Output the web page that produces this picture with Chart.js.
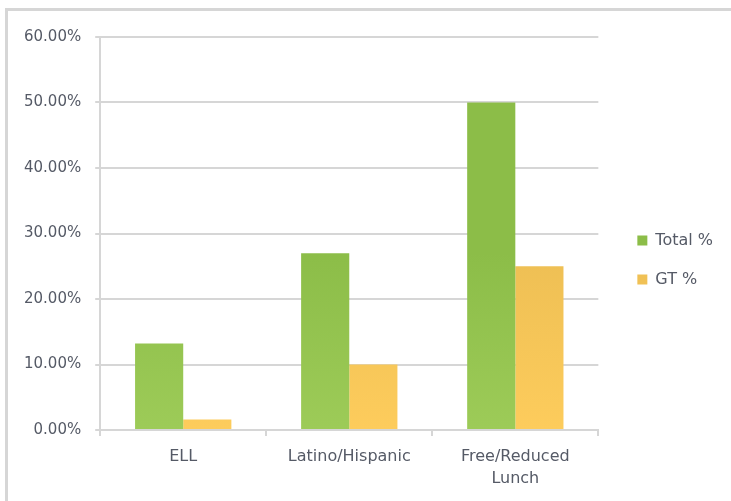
<!DOCTYPE html>
<html>
<head>
<meta charset="utf-8">
<script src="https://cdn.jsdelivr.net/npm/chart.js@4/dist/chart.umd.min.js"></script>
<style>
  body { margin: 0; background: #fff; }
  #frame {
    position: absolute; left: 5px; top: 8px;
    width: 723px; height: 490px;
    border-top: 3px solid #d6d6d6;
    border-left: 3px solid #d6d6d6;
  }
</style>
</head>
<body>
<div id="frame"><canvas id="chart" width="723" height="490"></canvas></div>
<script>
// values (percent)
const categories = ['ELL', 'Latino/Hispanic', ['Free/Reduced', 'Lunch']];
const totalPct = [13.2, 27.0, 50.0];
const gtPct = [1.6, 10.0, 25.0];

function barGradient(top, bottom) {
    return function (context) {
        const area = context.chart.chartArea;
        if (!area) return top;
        const g = context.chart.ctx.createLinearGradient(0, area.top, 0, area.bottom);
        g.addColorStop(0, top);
        g.addColorStop(0.55, top);
        g.addColorStop(1, bottom);
        return g;
    };
}

const textColor = '#555a66';
const gridColor = '#d6d6d6';

new Chart(document.getElementById('chart').getContext('2d'), {
    type: 'bar',
    data: {
        labels: categories,
        datasets: [{
            label: 'Total %',
            data: totalPct,
            backgroundColor: barGradient('#8cbd48', '#9dcb58'),
            categoryPercentage: 0.58,
            barPercentage: 1
        }, {
            label: 'GT %',
            data: gtPct,
            backgroundColor: barGradient('#eebf54', '#fdcc5c'),
            categoryPercentage: 0.58,
            barPercentage: 1
        }]
    },
    options: {
        responsive: false,
        animation: false,
        layout: { padding: { left: 2, top: 26, right: 8, bottom: 1 } },
        plugins: {
            tooltip: { enabled: false },
            legend: {
                position: 'right',
                align: 'start',
                // blank title only pushes the two entries down to mid height
                title: { display: true, text: ' ', padding: { top: 158, bottom: 0 } },
                labels: {
                    boxWidth: 10,
                    boxHeight: 10,
                    padding: 23,
                    color: textColor,
                    font: { family: 'DejaVu Sans', size: 16 }
                }
            }
        },
        scales: {
            x: {
                grid: { drawOnChartArea: false, color: gridColor, lineWidth: 2, tickLength: 6 },
                border: { color: gridColor, width: 2 },
                ticks: {
                    color: textColor,
                    font: { family: 'DejaVu Sans', size: 16, lineHeight: 1.375 },
                    maxRotation: 0,
                    padding: 10
                }
            },
            y: {
                min: 0,
                max: 60,
                grid: { color: gridColor, lineWidth: 2, tickLength: 5 },
                border: { color: gridColor, width: 2 },
                ticks: {
                    stepSize: 10,
                    color: textColor,
                    font: { family: 'DejaVu Sans', size: 15 },
                    padding: 14,
                    callback: v => v.toFixed(2) + '%'
                }
            },
            // empty spacer between the plot and the legend
            gap: {
                axis: 'y',
                position: 'right',
                grid: { display: false },
                border: { display: false },
                ticks: { display: false },
                afterFit: s => { s.width = 16; }
            }
        }
    }
});
</script>
</body>
</html>
